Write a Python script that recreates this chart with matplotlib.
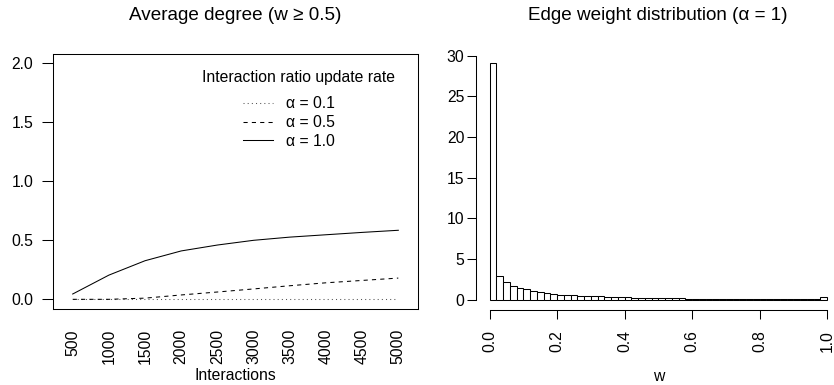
import numpy as np
import matplotlib
matplotlib.use("Agg")
import matplotlib.pyplot as plt

plt.rcParams['font.family'] = ['Liberation Sans', 'DejaVu Sans']
FS = 11.3
FT = 13.6
plt.rcParams['font.size'] = FS

# ---- data ----
interactions = [500, 1000, 1500, 2000, 2500, 3000, 3500, 4000, 4500, 5000]
deg_a01 = [0.0, 0.0, 0.0, 0.0, 0.0, 0.0, 0.0, 0.0, 0.0, 0.0]
deg_a05 = [0.0, 0.0, 0.01, 0.037, 0.062, 0.088, 0.115, 0.14, 0.16, 0.18]
deg_a10 = [0.045, 0.205, 0.327, 0.41, 0.46, 0.50, 0.527, 0.547, 0.567, 0.585]
series_labels = ["\u03b1 = 0.1", "\u03b1 = 0.5", "\u03b1 = 1.0"]

bin_edges = np.linspace(0.0, 1.0, 51)
density = [29.15, 2.95, 2.14, 1.72, 1.40, 1.28, 1.10, 0.91, 0.79, 0.70,
           0.62, 0.58, 0.53, 0.48, 0.44, 0.42, 0.40, 0.37, 0.34, 0.31,
           0.28, 0.26, 0.24, 0.22, 0.21, 0.19, 0.17, 0.16, 0.17, 0.14,
           0.13, 0.12, 0.11, 0.11, 0.10, 0.10, 0.09, 0.09, 0.08, 0.08,
           0.07, 0.07, 0.06, 0.06, 0.06, 0.05, 0.05, 0.05, 0.04, 0.38]

left_yticks = [0.0, 0.5, 1.0, 1.5, 2.0]
right_yticks = [0, 5, 10, 15, 20, 25, 30]
right_xticks = [0.0, 0.2, 0.4, 0.6, 0.8, 1.0]

W, H = 834, 385
fig = plt.figure(figsize=(W / 100, H / 100), dpi=100)

def px_axes(x0, y0, x1, y1):
    return fig.add_axes([x0 / W, 1 - y1 / H, (x1 - x0) / W, (y1 - y0) / H])

lw = 0.75

# ---- left panel ----
ax1 = px_axes(53.3, 53.7, 417.7, 309.0)
ax1.plot(interactions, deg_a01, color='#555555', lw=lw, linestyle=(0, (1, 3)), label=series_labels[0])
ax1.plot(interactions, deg_a05, color='black', lw=lw, linestyle=(0, (4, 4)), label=series_labels[1])
ax1.plot(interactions, deg_a10, color='black', lw=lw, linestyle='-', label=series_labels[2])
ax1.set_xlim(232, 5268)
ax1.set_ylim(-0.082, 2.081)
ax1.set_xticks(interactions)
ax1.set_xticklabels([str(v) for v in interactions], rotation=90)
ax1.set_yticks(left_yticks)
ax1.set_yticklabels(["%.1f" % v for v in left_yticks])
ax1.tick_params(axis='x', length=0, pad=14.4, labelsize=FS)
ax1.tick_params(axis='y', length=7.6, width=lw, pad=6.8, direction='out', labelsize=FS)
for s in ax1.spines.values():
    s.set_linewidth(lw)
ax1.set_xlabel("Interactions", fontsize=FS)
ax1.xaxis.set_label_coords(0.5, -0.2624)
ax1.xaxis.label.set_va('center')
fig.text(235.5 / W, 1 - 15 / H, "Average degree (w \u2265 0.5)", ha='center', va='center', fontsize=FT)

ax1.text(0.674, 0.905, "Interaction ratio update rate", transform=ax1.transAxes,
         ha='center', va='center', fontsize=FS)
leg = ax1.legend(loc='upper left', bbox_to_anchor=(0.5206, 0.834), frameon=False,
                 borderpad=0, borderaxespad=0, handlelength=1.9, handletextpad=0.83,
                 labelspacing=0.25, fontsize=FS)

# ---- right panel ----
ax2 = px_axes(476.0, 45.9, 840.5, 309.5)
ax2.bar(bin_edges[:-1], density, width=np.diff(bin_edges), align='edge',
        facecolor='white', edgecolor='black', linewidth=lw)
ax2.set_xlim(-0.04, 1.04)
ax2.set_ylim(-1.2, 31.2)
ax2.spines['top'].set_visible(False)
ax2.spines['right'].set_visible(False)
ax2.spines['left'].set_bounds(0, 30)
ax2.spines['bottom'].set_bounds(0, 1)
ax2.spines['left'].set_linewidth(lw)
ax2.spines['bottom'].set_linewidth(lw)
ax2.set_yticks(right_yticks)
ax2.set_yticklabels([str(v) for v in right_yticks])
ax2.set_xticks(right_xticks)
ax2.set_xticklabels(["%.1f" % v for v in right_xticks], rotation=90)
ax2.tick_params(axis='x', length=6.5, width=lw, pad=8.4, direction='out', labelsize=FS)
ax2.tick_params(axis='y', length=6.8, width=lw, pad=1.6, direction='out', labelsize=FS)
ax2.set_xlabel("w", fontsize=FS)
ax2.xaxis.set_label_coords(0.5, -0.2523)
ax2.xaxis.label.set_va('center')
fig.text(658.2 / W, 1 - 15 / H, "Edge weight distribution (\u03b1 = 1)", ha='center', va='center', fontsize=FT)

fig.savefig("out.png", dpi=100)
